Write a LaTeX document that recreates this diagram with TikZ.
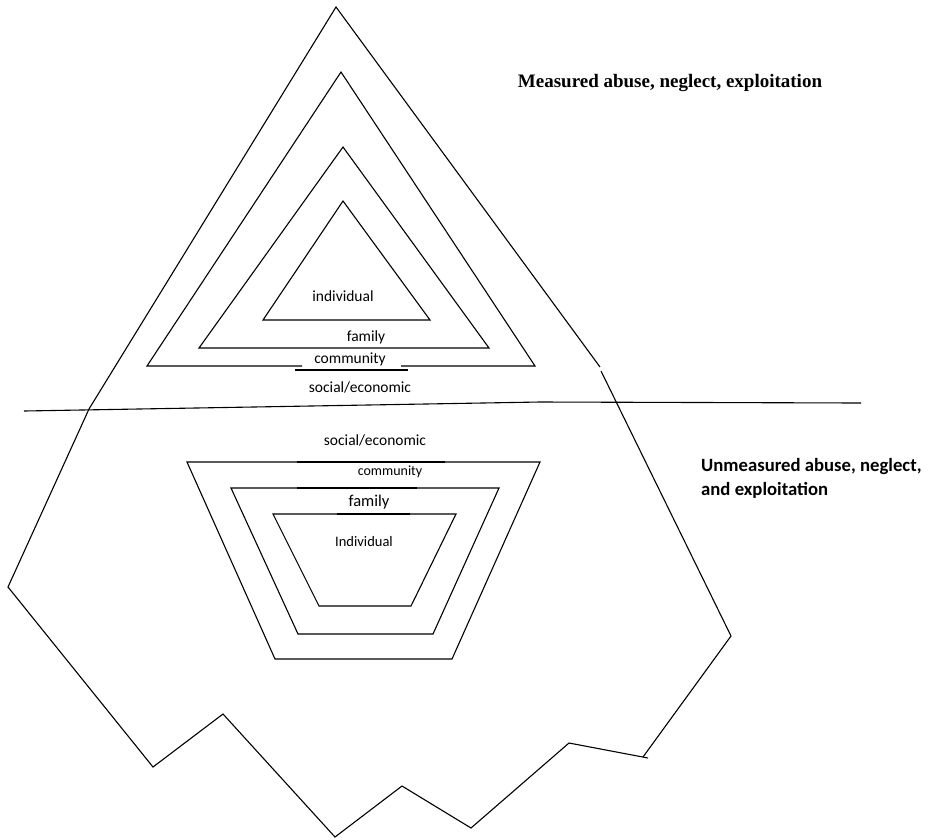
\documentclass[tikz,border=0pt]{standalone}
\usepackage{fontspec}
\setmainfont{Liberation Serif}
\newfontfamily\calibri{Carlito}
\usetikzlibrary{positioning}

\begin{document}
\begin{tikzpicture}[x=1pt, y=-1pt,
  outline/.style={draw=black, line width=1.1pt, line join=miter},
  layer/.style={draw=black, line width=1.1pt},
  overlay/.style={draw=black, line width=1.8pt},
  lbl/.style={font=\calibri\fontsize{15.5}{18}\selectfont, inner sep=0pt},
  title/.style={font=\bfseries\fontsize{19}{22}\selectfont, inner sep=0pt},
  subtitle/.style={font=\calibri\bfseries\fontsize{18.7}{24}\selectfont, align=left, inner sep=0pt}
]
\useasboundingbox (0,0) rectangle (931,839);

% outer jagged shape
\draw[outline] (600,367) -- (336,7) -- (89,409) -- (8,587) -- (153,767) -- (223,714)
  -- (335,837) -- (402,786) -- (471,828) -- (569,743) -- (648,758);
\draw[outline] (643,757) -- (731,636) -- (601,371);

% dividing line
\draw[outline] (24,411) -- (540,402) -- (861,403);

% measured: triangles
\draw[layer] (343,201) -- (430,320) -- (263,320) -- cycle;
\draw[layer] (343,147) -- (489,348) -- (199,348) -- cycle;
\draw[layer] (302,366) -- (147,366) -- (341,72) -- (535,366) -- (401,366);
\draw[layer] (295,370) -- (408,370);

\node[lbl] (indtop) at (343,296) {individual};
\node[lbl] (famtop) at (366,337) {family};
\node[lbl] (comtop) at (350,359) {community};
\node[lbl] (soctop) at (360,387) {social/economic};

% unmeasured: trapezoids
\draw[layer] (187,462) -- (540,462) -- (452,659) -- (275,659) -- cycle;
\draw[layer] (231,488) -- (499,488) -- (433,634) -- (298,634) -- cycle;
\draw[layer] (273,514) -- (456,514) -- (411,606) -- (319,606) -- cycle;
\draw[overlay] (297,462) -- (445,462);
\draw[overlay] (297,488) -- (417,488);
\draw[overlay] (337,514) -- (410,514);

\node[lbl] (socbot) at (375,440) {social/economic};
\node[lbl, font=\calibri\fontsize{14}{16}\selectfont] (combot) at (390,472) {community};
\node[lbl, font=\calibri\fontsize{16.5}{18}\selectfont] (fambot) at (369,502) {family};
\node[lbl, font=\calibri\fontsize{14.5}{16}\selectfont] (indbot) at (364,542) {Individual};

% headings
\node[title] (measured) at (670,83) {Measured abuse, neglect, exploitation};
\node[subtitle, anchor=west] (unmeasured) at (701,478) {Unmeasured abuse, neglect,\\and exploitation};
\end{tikzpicture}
\end{document}
